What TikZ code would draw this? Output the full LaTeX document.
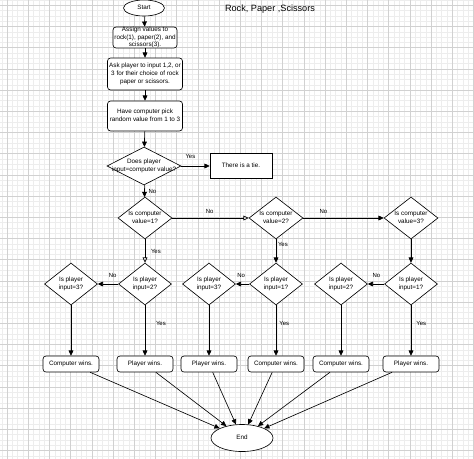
\documentclass[tikz,border=0pt]{standalone}
\usepackage{fontspec}
\setmainfont{Liberation Sans}
\usetikzlibrary{arrows.meta,shapes.geometric}
% text that may run over the edge of its shape
\newcommand{\boxtext}[1]{\raisebox{-0.25em}[0pt][0pt]{\makebox[0pt]{\begin{tabular}{@{}c@{}}#1\end{tabular}}}}

\begin{document}
\begin{tikzpicture}[
  x=0.5mm, y=-0.5mm,
  base/.style={draw, line width=0.9pt, fill=white, inner sep=0pt, font=\fontsize{9}{11.2}\selectfont},
  term/.style={base, ellipse},
  proc/.style={base, rectangle, rounded corners=1.5mm},
  dec/.style={base, diamond, minimum width=26.5mm, minimum height=21mm},
  outbox/.style={proc, minimum width=28mm, minimum height=8mm},
  arr/.style={-{Triangle[length=2.6mm, width=2.4mm]}, line width=0.9pt},
  oarr/.style={-{Triangle[open, length=2.6mm, width=2.4mm]}, line width=0.9pt},
  lbl/.style={font=\fontsize{8.5}{10}\selectfont, inner sep=1pt},
  gridminor/.style={black!7, line width=0.4pt},
  gridmajor/.style={black!18, line width=0.5pt}
]
  \useasboundingbox (0,0) rectangle (474,458);
  \begin{scope}
    \clip (0,0) rectangle (474,458);
    \begin{scope}[shift={(7,5.2)}]
      \draw[gridminor, step=2.65mm] (-10,-10) grid (480,470);
      \draw[gridmajor, step=10.6mm] (-10,-10) grid (480,470);
    \end{scope}
  \end{scope}

  \node[font=\fontsize{13}{15}\selectfont] (title) at (270,9) {Rock, Paper ,Scissors};

  \node[term, minimum width=20.5mm, minimum height=8mm] (start) at (144,8) {\boxtext{Start}};
  \node[proc, minimum width=32mm, minimum height=10.5mm] (assign) at (145,37.5) {\boxtext{Assign values to\\rock(1), paper(2), and\\scissors(3).}};
  \node[proc, minimum width=37.5mm, minimum height=16mm] (ask) at (145,74) {\boxtext{Ask player to input 1,2, or\\3 for their choice of rock\\paper or scissors.}};
  \node[proc, minimum width=37.5mm, minimum height=15mm] (pick) at (145,116) {\boxtext{Have computer pick\\random value from 1 to 3}};
  \node[dec, minimum width=37mm, minimum height=19mm] (same) at (144,166) {\boxtext{Does player\\input=computer value?}};
  \node[base, minimum width=31mm, minimum height=12.5mm] (tie) at (241,166) {\boxtext{There is a tie.}};

  \node[dec, minimum width=27mm] (cone) at (145,218) {\boxtext{Is computer\\value=1?}};
  \node[dec, minimum width=27mm] (ctwo) at (276,218) {\boxtext{Is computer\\value=2?}};
  \node[dec, minimum width=27mm] (cthree) at (411,218) {\boxtext{Is computer\\value=3?}};

  \node[dec] (pa) at (71,284) {\boxtext{Is player\\input=3?}};
  \node[dec] (pb) at (145,284) {\boxtext{Is player\\input=2?}};
  \node[dec] (pc) at (209,284) {\boxtext{Is player\\input=3?}};
  \node[dec] (pd) at (276,284) {\boxtext{Is player\\input=1?}};
  \node[dec] (pe) at (341,284) {\boxtext{Is player\\input=2?}};
  \node[dec] (pf) at (411,284) {\boxtext{Is player\\input=1?}};

  \node[outbox] (wa) at (71,364) {\boxtext{Computer wins.}};
  \node[outbox] (wb) at (145,364) {\boxtext{Player wins.}};
  \node[outbox] (wc) at (209,364) {\boxtext{Player wins.}};
  \node[outbox] (wd) at (276,364) {\boxtext{Computer wins.}};
  \node[outbox] (we) at (341,364) {\boxtext{Computer wins.}};
  \node[outbox] (wf) at (411,364) {\boxtext{Player wins.}};

  \node[term, minimum width=31mm, minimum height=13.5mm] (end) at (242,438) {\boxtext{End}};

  \draw[arr] (start) -- (assign);
  \draw[arr] (assign) -- (ask);
  \draw[arr] (ask) -- (pick);
  \draw[arr] (pick) -- (same);
  \draw[arr] (same) -- node[lbl, pos=0.32, above=3mm]{Yes} (tie);
  \draw[arr] (same) -- node[lbl, right=1.5mm]{No} (cone);

  \draw[oarr] (cone) -- node[lbl, pos=0.49, above=1.5mm]{No} (ctwo);
  \draw[arr] (ctwo) -- node[lbl, pos=0.25, above=1.5mm]{No} (cthree);
  \draw[oarr] (cone) -- node[lbl, right=2.5mm]{Yes} (pb);
  \draw[arr] (ctwo) -- node[lbl, pos=0.2, right=0.5mm]{Yes} (pd);
  \draw[arr] (cthree) -- (pf);

  \draw[arr] (pb) -- node[lbl, pos=0.27, above=2.5mm]{No} (pa);
  \draw[arr] (pd) -- node[lbl, pos=0.6, above=2.5mm]{No} (pc);
  \draw[arr] (pf) -- node[lbl, pos=0.47, above=2.5mm]{No} (pe);

  \draw[arr] (pa) -- (wa);
  \draw[arr] (pb) -- node[lbl, pos=0.37, right=5mm]{Yes} (wb);
  \draw[arr] (pc) -- (wc);
  \draw[arr] (pd) -- node[lbl, pos=0.37, right=1.2mm]{Yes} (wd);
  \draw[arr] (pe) -- (we);
  \draw[arr] (pf) -- node[lbl, pos=0.37, right=2.2mm]{Yes} (wf);

  \draw[arr] (wa) -- (end);
  \draw[arr] (wb) -- (end);
  \draw[arr] (wc) -- (end);
  \draw[arr] (wd) -- (end);
  \draw[arr] (we) -- (end);
  \draw[arr] (wf) -- (end);
\end{tikzpicture}
\end{document}
